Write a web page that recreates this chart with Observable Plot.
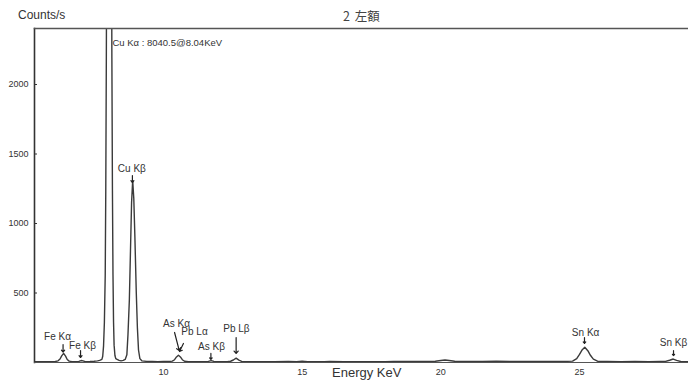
<!DOCTYPE html>
<html><head><meta charset="utf-8">
<script src="https://cdn.jsdelivr.net/npm/d3@7"></script>
<script src="https://cdn.jsdelivr.net/npm/@observablehq/plot@0.6"></script>
<style>
body{margin:0;background:#fff;}
#wrap{position:relative;width:688px;height:388px;overflow:hidden;font-family:"Liberation Sans",Arial,sans-serif;color:#333;}
#wrap svg{position:absolute;left:0;top:0;}
.t{position:absolute;white-space:nowrap;line-height:1;z-index:2;}
</style></head><body>
<div id="wrap">
<div class="t" style="left:18px;top:9px;font-size:12px;">Counts/s</div>
<div class="t" style="left:343px;top:10px;font-size:12.5px;font-family:'Noto Sans CJK JP';color:#444;word-spacing:2px;">2 左額</div>
<div class="t" style="left:332px;top:366px;font-size:13px;">Energy KeV</div>
</div>
<script>
// Spectrum (energy in keV, counts/s)
const energy = [5.35,5.6,5.9,6.1,6.2,6.27,6.33,6.40,6.47,6.53,6.6,6.7,6.85,6.95,7.03,7.10,7.18,7.35,7.5,7.62,7.70,7.78,7.81,7.84,7.87,7.90,7.92,7.94,7.96,7.99,8.04,8.09,8.12,8.14,8.16,8.18,8.20,8.22,8.25,8.28,8.33,8.40,8.47,8.55,8.62,8.68,8.72,8.77,8.81,8.85,8.89,8.93,8.97,9.02,9.06,9.10,9.15,9.22,9.4,9.6,9.8,10.0,10.2,10.32,10.40,10.47,10.54,10.61,10.68,10.76,10.9,11.2,11.5,11.62,11.72,11.82,12.0,12.3,12.42,12.52,12.62,12.72,12.82,13.0,13.4,13.7,14.0,14.5,14.8,15.0,15.2,15.8,16.0,16.5,17.0,17.5,18.0,18.3,18.6,19.0,19.4,19.8,20.0,20.15,20.3,20.5,21.0,21.5,22.0,22.5,23.0,23.5,24.0,24.5,24.75,24.9,25.0,25.1,25.19,25.3,25.4,25.5,25.65,26.0,26.5,27.0,27.5,27.9,28.1,28.25,28.38,28.5,28.65,28.93];
const counts = [5,6,5,7,12,25,48,66,46,22,10,6,5,8,14,12,6,7,9,12,15,22,45,120,290,630,1240,2190,3500,5810,8040,5810,3500,2190,1240,630,290,125,50,28,22,15,12,15,22,55,200,450,800,1150,1310,1180,900,500,250,90,28,12,8,7,6,8,7,10,20,40,52,40,20,9,6,5,6,8,14,8,5,6,9,18,31,17,8,5,6,5,6,7,5,9,5,6,7,5,6,5,6,8,7,8,7,9,14,18,14,9,8,7,9,8,7,8,7,8,10,28,58,92,110,85,50,24,9,7,6,7,6,7,8,16,25,15,7,6];

// Peak annotations
const peakLabels   = ["Fe Kα","Fe Kβ","Cu Kβ","As Kα","Pb Lα","As Kβ","Pb Lβ","Sn Kα","Sn Kβ"];
const labelEnergy  = [6.18, 7.08, 8.86, 10.47, 11.12, 11.73, 12.63, 25.22, 28.39];
const labelCounts  = [187, 122, 1396, 281, 223, 115, 245, 216, 144];
const arrowEnergy1 = [6.38, 7.01, 8.88, 10.40, 10.72, 11.71, 12.62, 25.18, 28.39];
const arrowCounts1 = [129, 86, 1345, 216, 137, 65, 180, 180, 86];
const arrowEnergy2 = [6.38, 7.01, 8.88, 10.57, 10.58, 11.71, 12.62, 25.18, 28.39];
const arrowCounts2 = [75, 36, 1295, 86, 79, 22, 65, 137, 50];

const mainPeakLabel = ["Cu Kα : 8040.5@8.04KeV"];
const mainPeakEnergy = [8.16];
const mainPeakCounts = [2302];

const xTicks = [10, 15, 20, 25];
const yTicks = [500, 1000, 1500, 2000];

const spectrum = energy.map((e, i) => ({energy: e, counts: counts[i]}));
const labels = peakLabels.map((t, i) => ({t, e: labelEnergy[i], c: labelCounts[i]}));
const arrows = peakLabels.map((t, i) => ({e1: arrowEnergy1[i], c1: arrowCounts1[i], e2: arrowEnergy2[i], c2: arrowCounts2[i]}));
const mainLab = mainPeakLabel.map((t, i) => ({t, e: mainPeakEnergy[i], c: mainPeakCounts[i]}));

const chart = Plot.plot({
  width: 688, height: 388,
  marginLeft: 34, marginRight: 0, marginTop: 28, marginBottom: 26,
  x: {domain: [5.35, 28.93]},
  y: {domain: [0, 2403]},
  style: {fontFamily: "'Liberation Sans', Arial, sans-serif", color: "#333", background: "transparent", overflow: "visible"},
  marks: [
    Plot.axisX(xTicks, {tickSize: 0, tickPadding: 6, fontSize: 9, label: null, tickFormat: d => String(d)}),
    Plot.axisY(yTicks, {tickSize: 3, dx: 3, tickPadding: 6, fontSize: 9, label: null, stroke: "#333", tickFormat: d => String(d)}),
    Plot.line(spectrum, {x: "energy", y: "counts", stroke: "#3a3a3a", strokeWidth: 1.4, clip: true}),
    Plot.frame({anchor: "left", stroke: "#333", strokeWidth: 1.6}),
    Plot.frame({anchor: "top", stroke: "#555", strokeWidth: 1.5}),
    Plot.frame({anchor: "bottom", stroke: "#555", strokeWidth: 1}),
    Plot.arrow(arrows, {x1: "e1", y1: "c1", x2: "e2", y2: "c2", stroke: "#222", strokeWidth: 1.2, headLength: 4, headAngle: 80}),
    Plot.text(labels, {x: "e", y: "c", text: "t", fontSize: 10, fill: "#333"}),
    Plot.text(mainLab, {x: "e", y: "c", text: "t", fontSize: 9.5, fill: "#333", textAnchor: "start"})
  ]
});
document.getElementById("wrap").prepend(chart);
</script>
</body></html>
